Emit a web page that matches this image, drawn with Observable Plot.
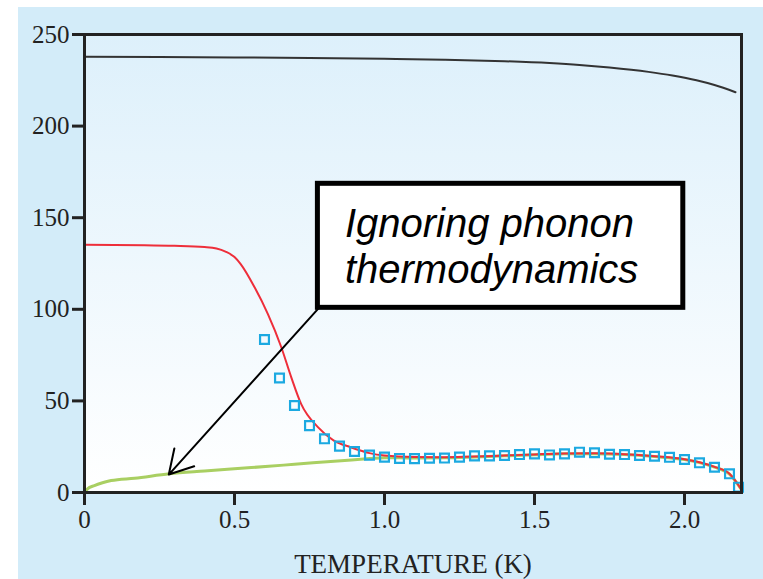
<!DOCTYPE html>
<html>
<head>
<meta charset="utf-8">
<script src="https://cdn.jsdelivr.net/npm/d3@7"></script>
<script src="https://cdn.jsdelivr.net/npm/@observablehq/plot@0.6"></script>
<style>
  html, body { margin: 0; padding: 0; background: #ffffff; }
  #wrap { position: absolute; left: 18px; top: 7px; width: 745px; height: 572px; background: #d3ecf9; overflow: hidden; }
</style>
</head>
<body>
<div id="wrap"></div>
<script>
// ---- data ----
const blackT = [0, 0.25, 0.5, 0.75, 1.0, 1.2, 1.4, 1.55, 1.65, 1.75, 1.88, 1.96, 2.04, 2.1, 2.17];
const blackV = [237.8, 237.7, 237.5, 237.2, 236.7, 236.2, 235.4, 234.4, 233.4, 232.0, 229.6, 227.6, 225.0, 222.4, 218.5];

const redT = [0, 0.2, 0.3, 0.4, 0.44, 0.47, 0.5, 0.52, 0.567, 0.611, 0.656, 0.689, 0.722, 0.778, 0.83, 0.887, 0.95, 1.0, 1.1, 1.2, 1.3, 1.4, 1.5, 1.6, 1.7, 1.8, 1.9, 2.0, 2.05, 2.1, 2.15, 2.19];
const redV = [135.2, 135.0, 134.7, 134.0, 133.2, 131.5, 128.5, 124.8, 112, 97.5, 79.3, 63, 48.4, 35.7, 28.5, 24.7, 21.5, 20.2, 19.4, 19.3, 19.6, 20.2, 20.8, 21.3, 21.4, 20.9, 19.8, 18.2, 16.5, 14.0, 10.2, 1.5];

const greenT = [0, 0.01, 0.033, 0.06, 0.089, 0.167, 0.283, 0.4, 0.556, 0.7, 0.867, 0.95, 1.0, 1.1, 1.2, 1.3, 1.4, 1.5, 1.6, 1.7, 1.8, 1.9, 2.0, 2.05, 2.1, 2.15, 2.19];
const greenV = [0, 2.0, 3.8, 5.3, 6.5, 7.8, 10.2, 11.7, 13.6, 15.4, 17.5, 18.5, 19.0, 18.8, 18.9, 19.4, 20.0, 20.6, 21.1, 21.2, 20.7, 19.6, 18.0, 16.3, 13.8, 10.0, 1.5];

const squareT = [0.60, 0.65, 0.70, 0.75, 0.80, 0.85, 0.90, 0.95, 1.00, 1.05, 1.10, 1.15, 1.20, 1.25, 1.30, 1.35, 1.40, 1.45, 1.50, 1.55, 1.60, 1.65, 1.70, 1.75, 1.80, 1.85, 1.90, 1.95, 2.00, 2.05, 2.10, 2.15, 2.18];
const squareV = [83.5, 62.5, 47.5, 36.5, 29.3, 25.3, 22.4, 20.4, 19.3, 18.6, 18.5, 18.7, 18.8, 19.3, 20.0, 20.0, 20.2, 20.7, 21.1, 20.5, 21.1, 22.0, 21.7, 20.9, 20.7, 20.2, 19.8, 19.2, 18.0, 16.2, 13.8, 10.2, 2.9];

const xTicks = [0, 0.5, 1.0, 1.5, 2.0];
const xTickLabels = ["0", "0.5", "1.0", "1.5", "2.0"];
const yTicks = [0, 50, 100, 150, 200, 250];
const xLabel = "TEMPERATURE (K)";

// annotation (data units)
const noteText = ["Ignoring phonon\nthermodynamics"];
const noteAt = [{x: 0.868, y: 114.6}];
const noteBox = [{x1: 0.778, x2: 1.996, y1: 100.8, y2: 168.5}];
const noteArrow = [{x1: 0.78, y1: 100.5, x2: 0.281, y2: 9.8}];

const toRows = (ts, vs) => ts.map((t, i) => ({t, v: vs[i]}));
const black = toRows(blackT, blackV);
const red = toRows(redT, redV);
const green = toRows(greenT, greenV);
const squares = toRows(squareT, squareV);
const note = noteText.map((s, i) => ({...noteAt[i], s}));

const chart = Plot.plot({
  width: 745,
  height: 572,
  marginLeft: 66,
  marginRight: 22,
  marginTop: 27,
  marginBottom: 87,
  style: {background: "transparent", fontFamily: "'Liberation Serif', serif", fontSize: "25px", color: "#222"},
  x: {domain: [0, 2.19]},
  y: {domain: [0, 250]},
  marks: [
    Plot.frame({fill: "url(#bggrad)", stroke: "none"}),
    Plot.axisY({ticks: yTicks, tickSize: 12, tickPadding: 3, strokeWidth: 3, stroke: "#222", label: null}),
    Plot.axisX({ticks: xTicks, tickFormat: (d, i) => xTickLabels[i], tickSize: 13, tickPadding: 5, strokeWidth: 3, stroke: "#222",
      label: null}),
    Plot.text([xLabel], {frameAnchor: "bottom", dy: 80, text: d => d, lineAnchor: "bottom", fontSize: 27, fill: "#222"}),
    Plot.line(black, {x: "t", y: "v", stroke: "#333", strokeWidth: 2, curve: "monotone-x"}),
    Plot.line(green, {x: "t", y: "v", stroke: "#a9cf62", strokeWidth: 3, curve: "monotone-x"}),
    Plot.line(red, {x: "t", y: "v", stroke: "#ee2e3a", strokeWidth: 2, curve: "monotone-x"}),
    Plot.dot(squares, {x: "t", y: "v", symbol: "square", r: 5, stroke: "#1ba9e1", strokeWidth: 2.2, fill: "none"}),
    Plot.arrow(noteArrow, {x1: "x1", y1: "y1", x2: "x2", y2: "y2", stroke: "#000", strokeWidth: 2, headLength: 20, headAngle: 60}),
    Plot.rect(noteBox, {x1: "x1", x2: "x2", y1: "y1", y2: "y2", fill: "#fff", stroke: "#000", strokeWidth: 5}),
    Plot.text(note, {x: "x", y: "y", text: "s", textAnchor: "start", lineAnchor: "bottom", lineHeight: 1.13,
      fontFamily: "'Liberation Sans', Arial, sans-serif", fontStyle: "italic", fontSize: 40, fill: "#000"}),
    Plot.frame({stroke: "#222", strokeWidth: 3})
  ]
});

// gradient for plot background
const svg = d3.select(chart);
const defs = svg.insert("defs", ":first-child");
const g = defs.append("linearGradient").attr("id", "bggrad").attr("x1", 0).attr("y1", 0).attr("x2", 0).attr("y2", 1);
g.append("stop").attr("offset", "0%").attr("stop-color", "#ddf0fb");
g.append("stop").attr("offset", "100%").attr("stop-color", "#ffffff");

document.getElementById("wrap").appendChild(chart);
</script>
</body>
</html>
